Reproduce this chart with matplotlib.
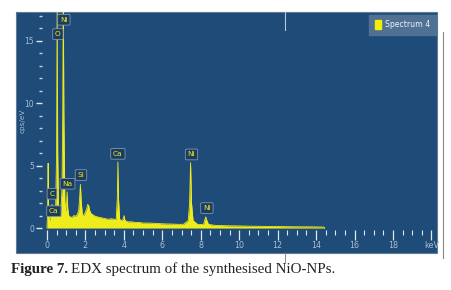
import matplotlib
matplotlib.use("Agg")
import matplotlib.pyplot as plt
from matplotlib.patches import Rectangle, Patch
from matplotlib.lines import Line2D
from matplotlib.ticker import FixedLocator

# spectrum (keV, cps/eV)
energy_kev = [0.00, 0.03, 0.06, 0.08, 0.11, 0.15, 0.20, 0.24, 0.27, 0.30,
              0.33, 0.36, 0.40, 0.45, 0.50, 0.53, 0.56, 0.60, 0.66, 0.72,
              0.78, 0.82, 0.85, 0.88, 0.93, 0.98, 1.02, 1.05, 1.08, 1.13,
              1.20, 1.30, 1.40, 1.50, 1.58, 1.65, 1.70, 1.74, 1.78, 1.84,
              1.92, 2.00, 2.06, 2.12, 2.17, 2.22, 2.30, 2.40, 2.50, 2.62,
              2.75, 2.90, 3.05, 3.20, 3.35, 3.50, 3.60, 3.66, 3.69, 3.72,
              3.78, 3.88, 3.96, 4.01, 4.06, 4.20, 4.40, 4.60, 4.80, 5.00,
              5.30, 5.60, 5.90, 6.20, 6.50, 6.80, 7.10, 7.35, 7.42, 7.47,
              7.52, 7.60, 7.85, 8.15, 8.20, 8.26, 8.32, 8.40, 8.70, 9.00,
              9.50, 10.0, 10.5, 11.0, 11.5, 12.0, 12.5, 13.0, 13.5, 14.0,
              14.4, 14.45]
counts = [0.0, 1.0, 5.2, 2.0, 0.8, 0.6, 1.0, 1.5, 1.9, 1.3,
          1.0, 1.4, 0.9, 1.5, 6.0, 17.9, 6.0, 1.5, 1.2, 1.3,
          3.0, 9.0, 19.0, 9.0, 2.2, 1.3, 2.0, 2.9, 1.6, 1.0,
          0.9, 0.85, 1.0, 0.95, 1.1, 1.4, 2.4, 3.5, 2.2, 1.1,
          1.0, 1.3, 1.5, 1.9, 1.8, 1.4, 1.15, 1.05, 0.95, 0.9,
          0.85, 0.8, 0.75, 0.7, 0.75, 0.7, 0.7, 2.4, 5.3, 2.4,
          0.7, 0.6, 0.7, 1.0, 0.6, 0.5, 0.5, 0.45, 0.45, 0.4,
          0.4, 0.38, 0.35, 0.33, 0.32, 0.3, 0.3, 0.6, 2.0, 5.25,
          2.0, 0.6, 0.28, 0.3, 0.6, 0.9, 0.6, 0.3, 0.22, 0.2,
          0.18, 0.17, 0.15, 0.14, 0.13, 0.12, 0.11, 0.1, 0.1, 0.09,
          0.08, 0.0]

# peak labels: text, box centre (keV, cps/eV)
peak_names = ["Ni", "O", "C", "Ca", "Na", "Si", "Ca", "Ni", "Ni"]
peak_x = [0.88, 0.57, 0.26, 0.36, 1.07, 1.77, 3.69, 7.52, 8.32]
peak_y = [16.7, 15.55, 2.75, 1.35, 3.55, 4.25, 5.95, 5.9, 1.6]

x_major = [0, 2, 4, 6, 8, 10, 12, 14, 16, 18, 20]
x_labels = ["0", "2", "4", "6", "8", "10", "12", "14", "16", "18", "keV"]
x_minor = [i * 0.5 for i in range(41)]
y_major = [0, 5, 10, 15]
y_minor = list(range(18))

panel = "#1f4b78"
yellow = "#efec1c"
tickc = "#a9bdd2"
narrow = ["Liberation Sans Narrow", "DejaVu Sans"]

fig = plt.figure(figsize=(4.51, 2.90), dpi=100)
ax = fig.add_axes([16 / 451, 37 / 290, 421 / 451, 241 / 290])
ax.set_facecolor(panel)
ax.set_xlim(-1.61, 20.29)
ax.set_ylim(-2.0, 17.32)

ax.fill_between(energy_kev, counts, 0, color=yellow, lw=0)
ax.plot(energy_kev, counts, color=yellow, lw=0.6)

for name, px, py in zip(peak_names, peak_x, peak_y):
    ax.text(px, py, name, color=yellow, fontsize=5.3, ha="center", va="center",
            family="DejaVu Sans",
            bbox=dict(boxstyle="round,pad=0.32,rounding_size=0.15",
                      fc="#1b3d62", ec="#8196ab", lw=0.6))

# axes lines
for s in ax.spines.values():
    s.set_visible(False)
ax.spines["bottom"].set_position(("data", -0.12))
ax.spines["left"].set_position(("data", -0.26))

ax.xaxis.set_major_locator(FixedLocator(x_major))
ax.set_xticklabels(x_labels)
ax.xaxis.set_minor_locator(FixedLocator(x_minor))
ax.yaxis.set_major_locator(FixedLocator(y_major))
ax.yaxis.set_minor_locator(FixedLocator(y_minor))
ax.set_yticklabels([str(v) for v in y_major])
ax.tick_params(axis="x", which="major", length=7, width=0.9, color="#dfe7ef",
               pad=1.5, labelsize=5.8, labelcolor=tickc)
ax.tick_params(axis="x", which="minor", length=3.5, width=0.8, color="#dfe7ef")
ax.tick_params(axis="y", which="major", length=4.5, width=1.0, color="#dfe7ef",
               pad=1.0, labelsize=5.5, labelcolor=tickc)
ax.tick_params(axis="y", which="minor", length=2.2, width=1.0, color="#c9d4df")
for lab in ax.get_xticklabels() + ax.get_yticklabels():
    lab.set_family(narrow)

ax.text(-1.25, 8.6, "cps/eV", rotation=90, color=tickc, fontsize=5.2,
        ha="center", va="center", family=narrow)

# panel border
ax.add_patch(Rectangle((0, 0), 1, 1, transform=ax.transAxes, fill=False,
                       ec="#5f7b98", lw=0.8, clip_on=False))

leg = ax.legend(handles=[Patch(fc="#f5ef00", ec="#f5ef00")], labels=["Spectrum 4"],
                loc="upper right", bbox_to_anchor=(0.998, 0.988), fontsize=5.6,
                frameon=True, fancybox=False, handlelength=0.8, handleheight=1.4,
                handletextpad=0.6, borderpad=0.7, borderaxespad=0.0)
leg.get_frame().set_facecolor("#4f7194")
leg.get_frame().set_edgecolor("#4f7194")
leg.get_frame().set_alpha(1)
for t in leg.get_texts():
    t.set_color("#eef2f6")
    t.set_family(narrow)

# cursor marks and side line
fig.add_artist(Line2D([285 / 451, 285 / 451], [1 - 12 / 290, 1 - 30 / 290],
                      color="#b9c7d6", lw=0.8))
fig.add_artist(Line2D([285 / 451, 285 / 451], [1 - 253 / 290, 1 - 262 / 290],
                      color="#888888", lw=0.7))
fig.add_artist(Line2D([443 / 451, 443 / 451], [1 - 32 / 290, 1 - 258 / 290],
                      color="#8a8a8a", lw=0.8))

# caption
fig.canvas.draw()
cap1 = fig.text(11 / 451, 1 - 273 / 290, "Figure 7.", fontsize=10.8,
                fontweight="bold", family="Liberation Serif", color="#222222")
fig.canvas.draw()
bb = cap1.get_window_extent()
fig.text((bb.x1 + 3) / 451, 1 - 273 / 290, "EDX spectrum of the synthesised NiO-NPs.",
         fontsize=10.8, family="Liberation Serif", color="#222222")

fig.savefig("out.png", dpi=100)
